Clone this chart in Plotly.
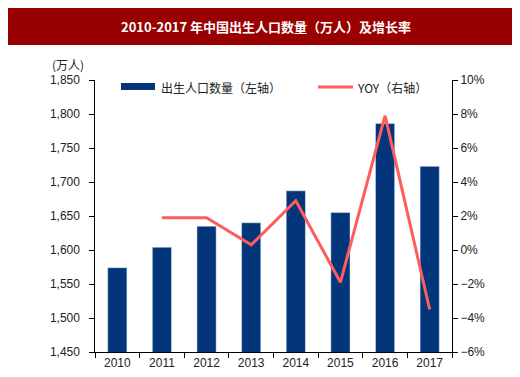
import plotly.graph_objects as go

years = ["2010", "2011", "2012", "2013", "2014", "2015", "2016", "2017"]
births = [1574, 1604, 1635, 1640, 1687, 1655, 1786, 1723]
yoy = [None, 1.9, 1.9, 0.3, 2.9, -1.9, 7.9, -3.5]

title_text = "2010-2017 年中国出生人口数量（万人）及增长率"
bar_name = "出生人口数量（左轴）"
line_name = "YOY（右轴）"
unit_label = "(万人)"

W, H = 520, 377
L, R, T, B = 87, 444, 72, 344

def px(x):
    return (x - L) / (R - L)

def py(y):
    return (B - y) / (B - T)

bar_color = "#02357A"
line_color = "#FF5C5C"
tick_font = dict(family="Liberation Sans, Arial, sans-serif", size=12, color="#222")
cjk = "Noto Sans CJK SC, sans-serif"

fig = go.Figure()
fig.add_trace(go.Bar(x=years, y=births, marker_color=bar_color, name=bar_name,
                     showlegend=False, yaxis="y"))
fig.add_trace(go.Scatter(x=years, y=yoy, mode="lines", line=dict(color=line_color, width=3),
                         name=line_name, showlegend=False, yaxis="y2"))

fig.update_layout(
    width=W, height=H,
    margin=dict(l=L, r=W - R, t=T, b=H - B),
    paper_bgcolor="white", plot_bgcolor="white",
    bargap=0.57,
    xaxis=dict(type="category", showline=True, linecolor="black", linewidth=1,
               ticks="outside", tickson="boundaries", ticklen=5, tickcolor="black",
               tickfont=tick_font, showgrid=False, zeroline=False),
    yaxis=dict(range=[1450, 1850], dtick=50, tickformat=",", ticksuffix="\u00a0\u00a0",
               showline=True, linecolor="black", linewidth=1, ticks="outside", ticklen=5,
               tickcolor="black", tickfont=tick_font, showgrid=False, zeroline=False),
    yaxis2=dict(range=[-6, 10], dtick=2, ticksuffix="%", overlaying="y", side="right",
                showline=True, linecolor="black", linewidth=1, ticks="outside",
                ticklen=5, tickcolor="black", tickfont=tick_font, showgrid=False,
                zeroline=False),
)

shapes = [
    dict(type="rect", xref="paper", yref="paper", x0=px(0), x1=px(516), y0=py(37), y1=py(0),
         fillcolor="#990000", line=dict(width=0), layer="above"),
    dict(type="rect", xref="paper", yref="paper", x0=px(113), x1=px(147), y0=py(82), y1=py(75),
         fillcolor=bar_color, line=dict(width=0)),
    dict(type="line", xref="paper", yref="paper", x0=px(310), x1=px(345), y0=py(79), y1=py(79),
         line=dict(color=line_color, width=3)),
]
fig.update_layout(shapes=shapes)

annotations = [
    dict(text="<b>" + title_text + "</b>", xref="paper", yref="paper", x=px(258), y=py(18),
         showarrow=False, xanchor="center", yanchor="middle",
         font=dict(family=cjk, size=13, color="white")),
    dict(text=bar_name, xref="paper", yref="paper", x=px(151), y=py(79), showarrow=False,
         xanchor="left", yanchor="middle", font=dict(family=cjk, size=12, color="#222")),
    dict(text=line_name, xref="paper", yref="paper", x=px(347), y=py(79), showarrow=False,
         xanchor="left", yanchor="middle", font=dict(family=cjk, size=12, color="#222")),
    dict(text=unit_label, xref="paper", yref="paper", x=px(60), y=py(57), showarrow=False,
         xanchor="center", yanchor="middle", font=dict(family=cjk, size=12, color="#222")),
]
fig.update_layout(annotations=annotations)

fig.write_html("out.html")
